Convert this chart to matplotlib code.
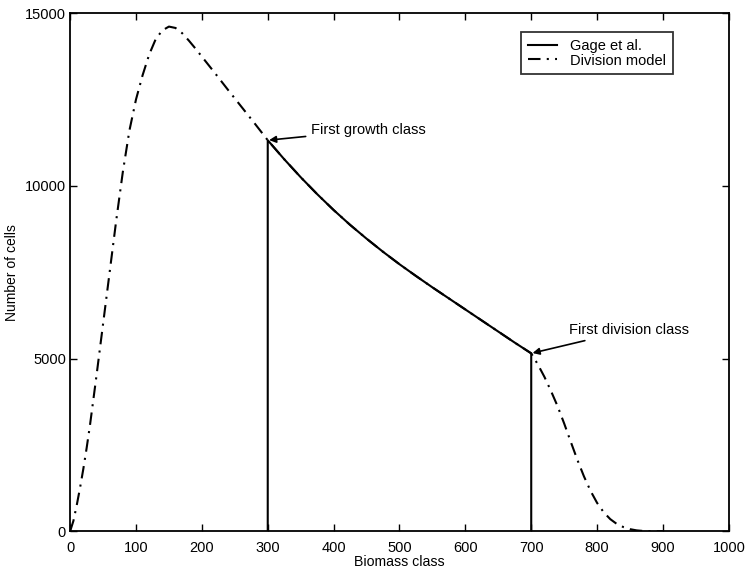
import matplotlib
matplotlib.use("Agg")
import matplotlib.pyplot as plt

plt.rcParams['font.family'] = ['Liberation Sans', 'DejaVu Sans']

# Division model (dash-dot) curve
div_x = [0, 5, 10, 15, 20, 25, 30, 40, 50, 60, 70, 80, 90, 100, 110, 120, 130, 140, 150, 160,
         170, 180, 190, 200, 220, 240, 260, 280, 300,
         325, 350, 375, 400, 425, 450, 475, 500, 525, 550, 575, 600, 625, 650, 675, 700,
         710, 720, 730, 740, 750, 760, 770, 780, 790, 800, 810, 820, 830, 840, 850, 860,
         870, 880, 900]
div_y = [0, 300, 750, 1250, 1800, 2400, 3050, 4500, 6000, 7500, 9000, 10400, 11600, 12500,
         13200, 13800, 14250, 14500, 14610, 14570, 14420, 14210, 13980, 13740, 13260, 12770,
         12290, 11810, 11320,
         10770, 10250, 9760, 9300, 8870, 8470, 8090, 7730, 7390, 7060, 6740, 6420, 6100, 5780,
         5460, 5150,
         4830, 4470, 4060, 3620, 3120, 2590, 2070, 1590, 1170, 820, 550, 350, 210, 120, 60, 25,
         8, 0, 0]

# Gage et al. (solid) curve
gage_x = [300, 300, 325, 350, 375, 400, 425, 450, 475, 500, 525, 550, 575, 600, 625, 650, 675,
          700, 700]
gage_y = [0, 11320, 10770, 10250, 9760, 9300, 8870, 8470, 8090, 7730, 7390, 7060, 6740, 6420,
          6100, 5780, 5460, 5150, 0]

x_ticks = [0, 100, 200, 300, 400, 500, 600, 700, 800, 900, 1000]
y_ticks = [0, 5000, 10000, 15000]

fig = plt.figure(figsize=(7.46, 5.70), dpi=100)
ax = fig.add_axes([0.094, 0.068, 0.883, 0.909])

ax.plot(gage_x, gage_y, color='black', lw=1.5, ls='-', label='Gage et al.')
ax.plot(div_x, div_y, color='black', lw=1.5, ls=(0, (6, 3, 1, 3)), label='Division model')

ax.set_xlim(0, 1000)
ax.set_ylim(0, 15000)
ax.set_xticks(x_ticks)
ax.set_yticks(y_ticks)
ax.tick_params(direction='in', top=True, right=True, length=5, width=1, labelsize=10.5)
ax.tick_params(axis='x', pad=7)
ax.tick_params(axis='y', pad=3)
for s in ax.spines.values():
    s.set_linewidth(1.3)

ax.set_xlabel('Biomass class', fontsize=10.2, labelpad=0)
ax.set_ylabel('Number of cells', fontsize=10, labelpad=4)

leg = ax.legend(loc='upper right', bbox_to_anchor=(0.915, 0.963), fontsize=10.5,
                frameon=True, fancybox=False, edgecolor='black', handlelength=2.0,
                borderpad=0.45, labelspacing=0.05, handletextpad=0.9, borderaxespad=0)
leg.get_frame().set_linewidth(1.3)

ax.annotate('First growth class', xy=(300, 11320), xytext=(366, 11610),
            fontsize=10.5, va='center', ha='left',
            arrowprops=dict(arrowstyle='-|>', color='black', lw=1.2, shrinkA=2, shrinkB=1,
                            mutation_scale=10))
ax.annotate('First division class', xy=(700, 5150), xytext=(757, 5820),
            fontsize=10.5, va='center', ha='left',
            arrowprops=dict(arrowstyle='-|>', color='black', lw=1.2, shrinkA=2, shrinkB=1,
                            mutation_scale=10))

fig.savefig('out.png', dpi=100)
